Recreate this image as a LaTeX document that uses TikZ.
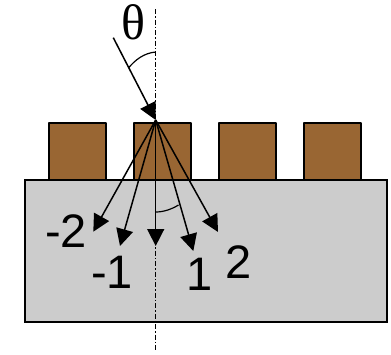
\documentclass[tikz,border=0pt]{standalone}
\usepackage{fontspec}
\setmainfont{Liberation Sans}
\newfontfamily\thetafont{Liberation Serif}
\usetikzlibrary{arrows.meta}
\definecolor{brownfill}{HTML}{996633}
\definecolor{grayfill}{HTML}{CCCCCC}
\tikzset{
  x=1pt,y=-1pt,
  ridge/.style={draw=black,fill=brownfill,line width=1.4pt,line join=round},
  substrate/.style={draw=black,fill=grayfill,line width=1.4pt},
  beam/.style={draw=black,line width=1.5pt,-{Triangle[length=17pt,width=17pt]},shorten >=0pt},
  axisline/.style={draw=black,line width=1.2pt,dash pattern=on 5pt off 2pt on 1.5pt off 2pt},
  anglearc/.style={draw=black,line width=1.2pt},
  order/.style={font=\fontsize{47}{47}\selectfont,inner sep=0pt,text=black},
  greek/.style={font=\thetafont\fontsize{50}{50}\selectfont,inner sep=0pt,text=black}
}
\begin{document}
\begin{tikzpicture}
\useasboundingbox (0,0) rectangle (391,354);
\fill[white] (0,0) rectangle (391,354);
\path[substrate] (25,180) rectangle (387,322);
\foreach \xa in {49,134,219,304}{
  \path[ridge] (\xa,123) rectangle ++(57,57);
}
\coordinate (top) at (155.7,9);
\coordinate (bottom) at (155.7,351);
\coordinate (src) at (113.3,37.7);
\coordinate (spot) at (155.7,120);
\coordinate (m2) at (93.3,231.7);
\coordinate (m1) at (120,246);
\coordinate (z) at (155.7,246);
\coordinate (p1) at (193.3,251);
\coordinate (p2) at (218,232);
\draw[axisline] (top) -- (bottom);
\draw[anglearc] (155.7,52) .. controls (144,53) and (135,60) .. (128.5,68);
\draw[anglearc] (155.7,212) .. controls (164,212) and (172,209) .. (178.5,205);
\draw[beam] (src) -- (spot);
\foreach \e in {m2,m1,z,p1,p2}{
  \draw[beam] (spot) -- (\e);
}
\node[greek] (theta) at (133,22) {θ};
\node[order] (lm2) at (66,231) {-2};
\node[order] (lm1) at (112,272.5) {-1};
\node[order] (lp1) at (200,274) {1};
\node[order] (lp2) at (239,262) {2};
\end{tikzpicture}
\end{document}
